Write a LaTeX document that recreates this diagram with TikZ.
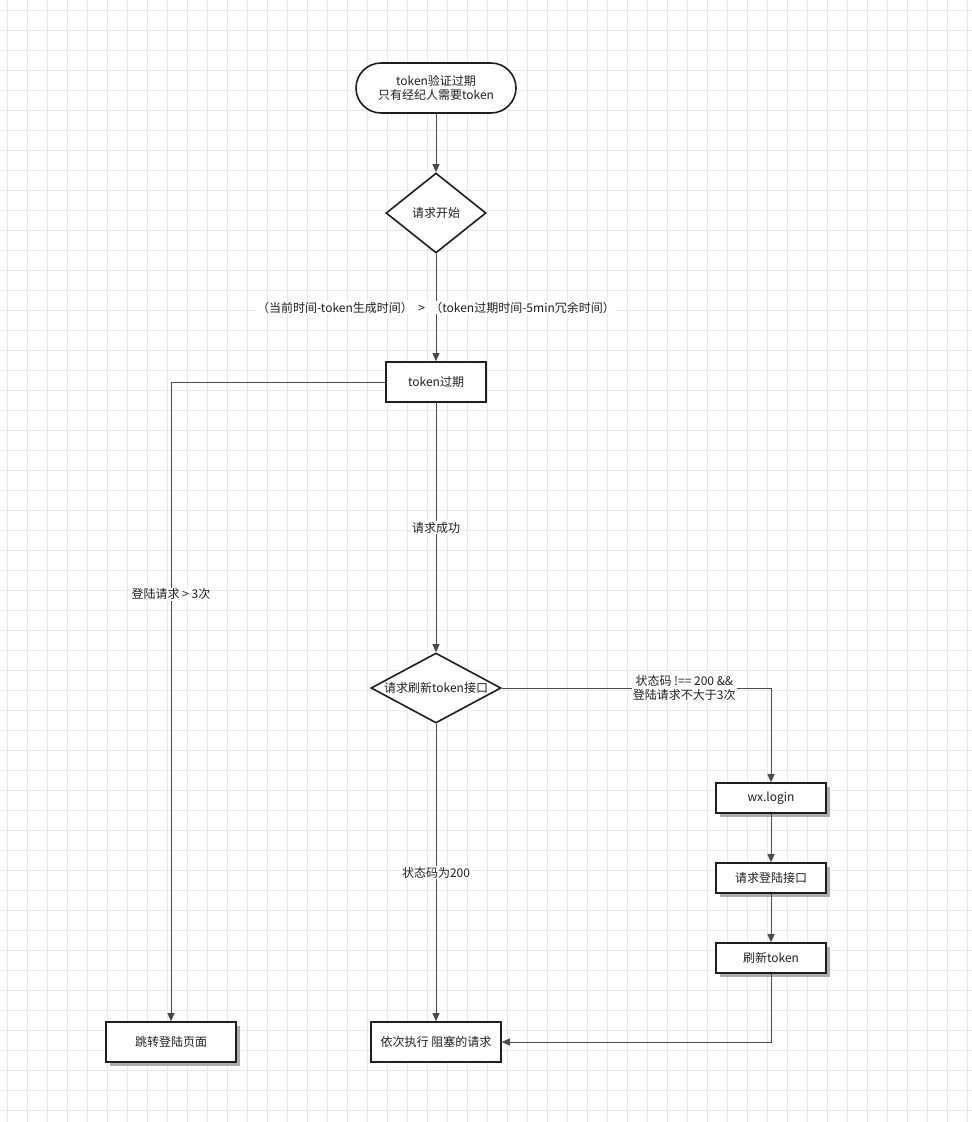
\documentclass[tikz,border=0pt]{standalone}
\usepackage{fontspec}
\setmainfont{Noto Sans CJK SC}
\usetikzlibrary{shapes.geometric,arrows.meta,shadows,positioning}
\definecolor{gridgray}{HTML}{E6E8EE}
\definecolor{linegray}{HTML}{4A4A4A}
\definecolor{inkblack}{HTML}{1E1E1E}
\begin{document}
\begin{tikzpicture}[x=1pt,y=-1pt,
  font=\fontsize{12}{13.5}\selectfont,text=inkblack,
  outline/.style={draw=inkblack,line width=1.6pt,fill=white},
  box/.style={outline,minimum width=#1,minimum height=40pt,inner sep=0pt},
  smallbox/.style={outline,minimum width=110pt,minimum height=30pt,inner sep=0pt},
  shade/.style={drop shadow={shadow xshift=4pt,shadow yshift=-4pt,fill=black!32,opacity=1}},
  decision/.style={outline,shape=diamond,inner sep=0pt},
  arr/.style={draw=linegray,line width=0.9pt,-{Triangle[width=7pt,length=8pt]}},
  lbl/.style={fill=white,inner sep=1pt,align=center}]
\useasboundingbox (0,0) rectangle (972,1122);
\fill[white] (0,0) rectangle (972,1122);
% background grid
\foreach \gx in {7,27,...,967} \draw[gridgray,line width=0.8pt] (\gx,0) -- (\gx,1122);
\foreach \gy in {10,30,...,1110} \draw[gridgray,line width=0.8pt] (0,\gy) -- (972,\gy);

\node[outline,rounded corners=25pt,minimum width=160pt,minimum height=50pt,align=center,inner sep=0pt] (start) at (436,88) {token验证过期\\只有经纪人需要token};
\node[decision,minimum width=100pt,minimum height=80pt] (begin) at (436,213) {};
\node (begintxt) at (begin.center) {请求开始};
\node[box=100pt] (expired) at (436,382) {token过期};
\node[decision,minimum width=130pt,minimum height=70pt] (refresh) at (436,688) {};
\node (refreshtxt) at (refresh.center) {请求刷新token接口};
\node[box=130pt,shade] (jump) at (171,1042) {跳转登陆页面};
\node[box=130pt] (run) at (436,1042) {依次执行 阻塞的请求};
\node[smallbox,shade] (wxlogin) at (771,798) {wx.login};
\node[smallbox,shade] (reqlogin) at (771,878) {请求登陆接口};
\node[smallbox,shade] (newtoken) at (771,958) {刷新token};

\draw[arr] (start) -- (begin);
\draw[arr] (begin) -- node[lbl] {（当前时间-token生成时间）\ \ >\ \ （token过期时间-5min冗余时间）} (expired);
\draw[arr] (expired.west) -| node[lbl,pos=0.666] {登陆请求 > 3次} (jump.north);
\draw[arr] (expired) -- node[lbl] {请求成功} (refresh);
\draw[arr] (refresh.east) -| node[lbl,pos=0.339] {状态码 !== 200 \&\&\\登陆请求不大于3次} (wxlogin.north);
\draw[arr] (wxlogin) -- (reqlogin);
\draw[arr] (reqlogin) -- (newtoken);
\draw[arr] (newtoken.south) |- (run.east);
\draw[arr] (refresh) -- node[lbl] {状态码为200} (run);
\end{tikzpicture}
\end{document}
